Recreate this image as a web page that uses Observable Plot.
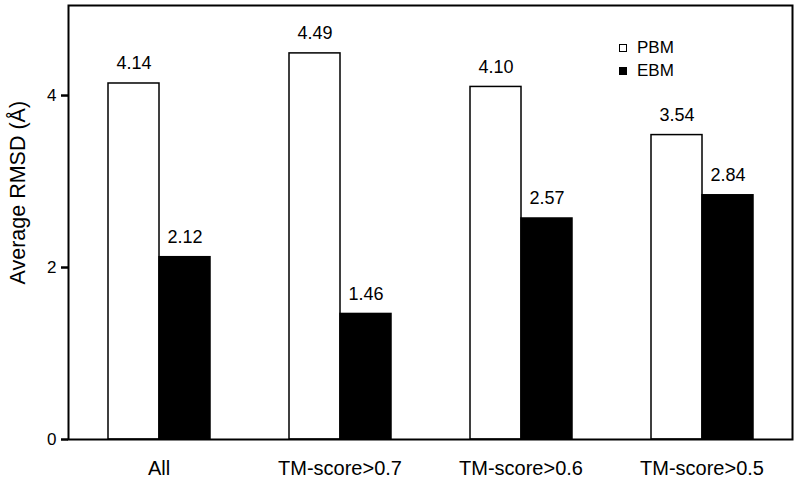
<!DOCTYPE html>
<html><head><meta charset="utf-8">
<script src="https://cdn.jsdelivr.net/npm/d3@7"></script>
<script src="https://cdn.jsdelivr.net/npm/@observablehq/plot@0.6"></script>
<style>
body{margin:0;background:#fff;font-family:"Liberation Sans",Arial,sans-serif}
#wrap{position:relative;width:799px;height:478px}
.legend{position:absolute;left:619px;top:36px;font-size:17px;color:#000;line-height:1}
.legend .row{display:flex;align-items:center;height:23px}
.sw{width:8px;height:8px;border:1.5px solid #000;box-sizing:border-box;margin-right:10px}
</style></head><body><div id="wrap"></div>
<script>
const categories = ["All", "TM-score>0.7", "TM-score>0.6", "TM-score>0.5"];
const series = ["PBM", "EBM"];
const seriesColors = ["#ffffff", "#000000"];
const pbm = [4.14, 4.49, 4.10, 3.54];
const ebm = [2.12, 1.46, 2.57, 2.84];
const yTicks = [0, 2, 4];
const yLabel = "Average RMSD (Å)";

const data = categories.flatMap((c, i) => [
  {category: c, method: "PBM", value: pbm[i]},
  {category: c, method: "EBM", value: ebm[i]}
]);

const chart = Plot.plot({
  width: 799, height: 478,
  marginTop: 5, marginBottom: 39, marginLeft: 67, marginRight: 6,
  style: {fontFamily: "Liberation Sans, Arial, sans-serif", fontSize: "17px", color: "#000", background: "#fff"},
  fx: {domain: categories, padding: 0, label: null, axis: null},
  x: {domain: series, paddingInner: 0, paddingOuter: 0.75, axis: null},
  y: {domain: [0, 5.047], axis: null},
  color: {domain: series, range: seriesColors},
  marks: [
    Plot.barY(data, {fx: "category", x: "method", y: "value", fill: "method", stroke: "#000", strokeWidth: 1.5}),
    Plot.text(data, {fx: "category", x: "method", y: "value", text: d => d.value.toFixed(2), dy: -20, fontSize: 18, fill: "#000"}),
    Plot.frame({facet: "super", stroke: "#000", strokeWidth: 2}),
    Plot.axisY({ticks: yTicks, tickFormat: d3.format("d"), tickSize: 7, tickPadding: 5, strokeWidth: 2.5, fontSize: 17, label: null}),
    Plot.axisFx({anchor: "bottom", tickSize: 0, tickPadding: 21, fontSize: 20, label: null}),
    Plot.text([yLabel], {frameAnchor: "left", rotate: -90, dx: -50, dy: 62, fontSize: 21.5, fill: "#000", facet: "super"})
  ]
});
const wrap = document.getElementById("wrap");
wrap.appendChild(chart);
const legend = document.createElement("div");
legend.className = "legend";
series.forEach((s, i) => {
  const row = document.createElement("div");
  row.className = "row";
  const sw = document.createElement("span");
  sw.className = "sw";
  sw.style.background = seriesColors[i];
  const t = document.createElement("span");
  t.textContent = s;
  row.appendChild(sw); row.appendChild(t);
  legend.appendChild(row);
});
wrap.appendChild(legend);
</script></body></html>
